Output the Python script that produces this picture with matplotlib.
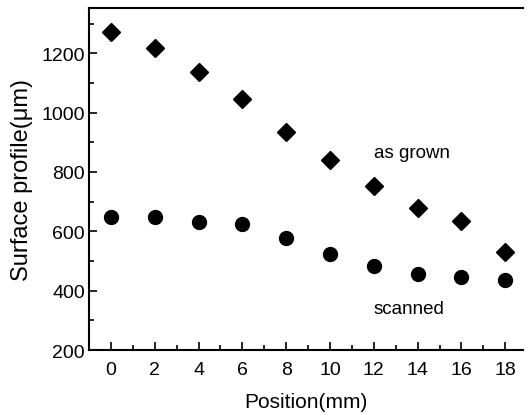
import matplotlib
matplotlib.use("Agg")
import matplotlib.pyplot as plt
from matplotlib.ticker import MultipleLocator

plt.rcParams['font.family'] = ['Liberation Sans', 'DejaVu Sans']

position = [0, 2, 4, 6, 8, 10, 12, 14, 16, 18]
as_grown = [1273, 1216, 1138, 1047, 935, 839, 753, 677, 635, 531]
scanned = [649, 647, 630, 625, 576, 525, 483, 455, 446, 436]

fig = plt.figure(figsize=(5.27, 4.14), dpi=100)
ax = fig.add_axes([0.169, 0.152, 0.823, 0.826])

ax.plot(position, as_grown, 'D', color='black', markersize=9, linestyle='none')
ax.plot(position, scanned, 'o', color='black', markersize=10, linestyle='none')

ax.text(12.0, 867, "as grown", fontsize=13.5, va='center', ha='left')
ax.text(12.0, 340, "scanned", fontsize=13.5, va='center', ha='left')

ax.set_xlim(-1, 18.8)
ax.set_ylim(200, 1352)
ax.xaxis.set_major_locator(MultipleLocator(2))
ax.xaxis.set_minor_locator(MultipleLocator(1))
ax.yaxis.set_major_locator(MultipleLocator(200))
ax.yaxis.set_minor_locator(MultipleLocator(100))
ax.tick_params(which='both', direction='in', top=False, right=False,
               labelsize=14, width=1.2)
ax.tick_params(axis='x', pad=8)
ax.tick_params(axis='y', pad=3)
ax.tick_params(which='major', length=6)
ax.tick_params(which='minor', length=3.5)
ax.spines['right'].set_visible(False)
for s in ['left', 'bottom', 'top']:
    ax.spines[s].set_linewidth(1.5)

ax.set_xlabel("Position(mm)", fontsize=15, labelpad=10)
ax.set_ylabel("Surface profile(\u03bcm)", fontsize=17, labelpad=6)

fig.savefig("out.png", dpi=100)
